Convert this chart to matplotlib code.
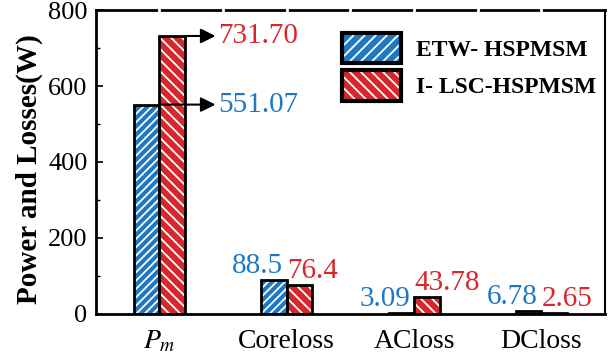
import matplotlib
matplotlib.use("Agg")
import matplotlib.pyplot as plt
from matplotlib.patches import Patch
from matplotlib.legend_handler import HandlerTuple
import numpy as np

# Data
categories = ["$P_m$", "Coreloss", "ACloss", "DCloss"]
series_names = ["ETW- HSPMSM", "I- LSC-HSPMSM"]
etw_values = [551.07, 88.5, 3.09, 6.78]
ilsc_values = [731.70, 76.4, 43.78, 2.65]
etw_labels = ["551.07", "88.5", "3.09", "6.78"]
ilsc_labels = ["731.70", "76.4", "43.78", "2.65"]
y_ticks = [0, 200, 400, 600, 800]

BLUE = "#1f78c2"
RED = "#d7262c"

plt.rcParams["font.family"] = ["Liberation Serif", "DejaVu Serif"]
plt.rcParams["mathtext.fontset"] = "stix"
plt.rcParams["hatch.linewidth"] = 1.3

fig = plt.figure(figsize=(6.10, 3.58), dpi=100)
ax = fig.add_axes([0.157, 0.123, 0.835, 0.849])

x = np.arange(len(categories))
w = 0.2

def hatched_bars(xpos, vals, color, hatch):
    ax.bar(xpos, vals, w, color=color, edgecolor="white", hatch=hatch,
           linewidth=0, zorder=2)
    ax.bar(xpos, vals, w, fill=False, edgecolor="black", linewidth=2.0,
           zorder=3)

hatched_bars(x - w / 2, etw_values, BLUE, "////")
hatched_bars(x + w / 2, ilsc_values, RED, "\\\\\\")

ax.set_xlim(-0.5, 3.5)
ax.set_ylim(0, 800)
ax.set_yticks(y_ticks)
ax.set_yticks(np.arange(100, 800, 200), minor=True)
ax.set_xticks(x)
ax.set_xticklabels(categories, fontsize=20)
ax.tick_params(axis="y", which="major", direction="in", length=5, width=1.2,
               labelsize=19, pad=6)
ax.tick_params(axis="y", which="minor", direction="in", length=3, width=1.0)
ax.tick_params(axis="x", length=0, pad=11)

for side in ("left", "bottom", "top"):
    ax.spines[side].set_linewidth(2.0)
ax.spines["right"].set_linewidth(1.5)

# small breaks along the top frame
brk = np.arange(0, 3.01, 0.5)
ax.plot(brk, np.ones_like(brk), transform=ax.get_xaxis_transform(),
        ls="none", marker="|", ms=5, mew=2, color="white", clip_on=False,
        zorder=5)

ax.set_ylabel("Power and Losses(W)", fontsize=21, fontweight="bold")
ax.yaxis.set_label_coords(-0.104, 0.475)

# arrow call-outs for the large values
for xs, val, lab, col in [(x[0], etw_values[0], etw_labels[0], BLUE),
                          (x[0] + w, ilsc_values[0], ilsc_labels[0], RED)]:
    ax.annotate("", xy=(0.44, val), xytext=(xs, val),
                arrowprops=dict(arrowstyle="-|>", color="black", lw=1.5,
                                mutation_scale=22, shrinkA=0, shrinkB=0),
                zorder=6)
    ax.text(0.46, val, lab, color=col, fontsize=21, va="center", ha="left")

# value labels for the loss groups
for i in range(1, len(categories)):
    ax.text(x[i] - 0.03, etw_values[i] + 3, etw_labels[i], color=BLUE,
            fontsize=21, ha="right", va="bottom")
    ax.text(x[i], ilsc_values[i] + 3, ilsc_labels[i], color=RED, fontsize=21,
            ha="left", va="bottom")

handles = [
    (Patch(facecolor=BLUE, edgecolor="white", hatch="///", linewidth=0),
     Patch(fill=False, edgecolor="black", linewidth=3)),
    (Patch(facecolor=RED, edgecolor="white", hatch="\\\\\\", linewidth=0),
     Patch(fill=False, edgecolor="black", linewidth=3)),
]
leg = ax.legend(handles, series_names,
                handler_map={tuple: HandlerTuple(ndivide=1, pad=0)},
                loc="upper left", bbox_to_anchor=(0.483, 0.925), frameon=False,
                prop={"weight": "bold", "size": 17}, handlelength=2.5,
                handleheight=1.6, handletextpad=0.65, labelspacing=0.3,
                borderpad=0, borderaxespad=0)

fig.savefig("out.png", dpi=100)
